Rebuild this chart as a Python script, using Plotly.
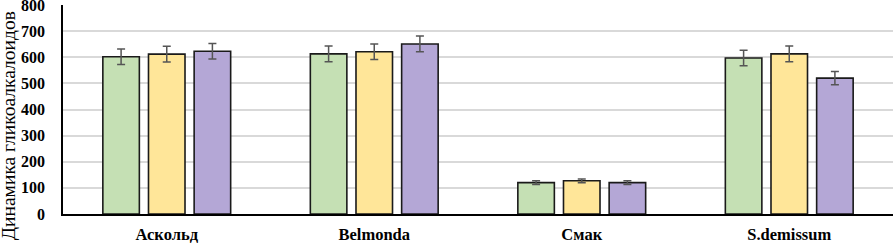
import plotly.graph_objects as go

categories = ["Аскольд", "Belmonda", "Смак", "S.demissum"]
series1 = [602, 613, 120, 597]
series2 = [612, 621, 127, 613]
series3 = [623, 651, 120, 520]
err1 = [30, 30, 7, 30]
err2 = [30, 30, 7, 30]
err3 = [30, 30, 7, 25]
y_ticks = [0, 100, 200, 300, 400, 500, 600, 700, 800]
y_title = "Динамика гликоалкалоидов"

colors = ["#C5E0B4", "#FFE699", "#B4A7D6"]
FONT = "Liberation Serif"

fig = go.Figure()
for vals, errs, col in zip([series1, series2, series3], [err1, err2, err3], colors):
    fig.add_trace(go.Bar(
        x=categories, y=vals,
        marker=dict(color=col, line=dict(color="#1a1a1a", width=1.6)),
        error_y=dict(type="data", array=errs, visible=True, color="#555555", thickness=1.5, width=4),
        showlegend=False,
    ))

fig.update_layout(
    width=893, height=243,
    margin=dict(l=63, r=0, t=5, b=29),
    paper_bgcolor="white", plot_bgcolor="white",
    barmode="group", bargap=0.34, bargroupgap=0.2,
    font=dict(family=FONT, color="black"),
    xaxis=dict(
        automargin=False,
        showline=True, linecolor="black", linewidth=1.5,
        ticks="", tickfont=dict(family=FONT, size=16.5, color="black", weight="bold"),
        ticklabelstandoff=4,
    ),
    yaxis=dict(
        automargin=False,
        range=[0, 800], tickvals=y_ticks,
        showline=True, linecolor="black", linewidth=1.5,
        showgrid=True, gridcolor="#D9D9D9", gridwidth=1.5,
        zeroline=False, ticklabeloverflow="allow",
        ticks="", tickfont=dict(family=FONT, size=16, color="black", weight="bold"),
        ticklabelstandoff=13,
    ),
    annotations=[dict(
        text=y_title, xref="paper", yref="paper",
        x=-55/830, y=0.42, xanchor="center", yanchor="middle",
        textangle=-90, showarrow=False,
        font=dict(family=FONT, size=19.5, color="black"),
    )],
)

fig.write_html("out.html", config={"displayModeBar": False},
               post_script="document.body.style.margin='0';")
